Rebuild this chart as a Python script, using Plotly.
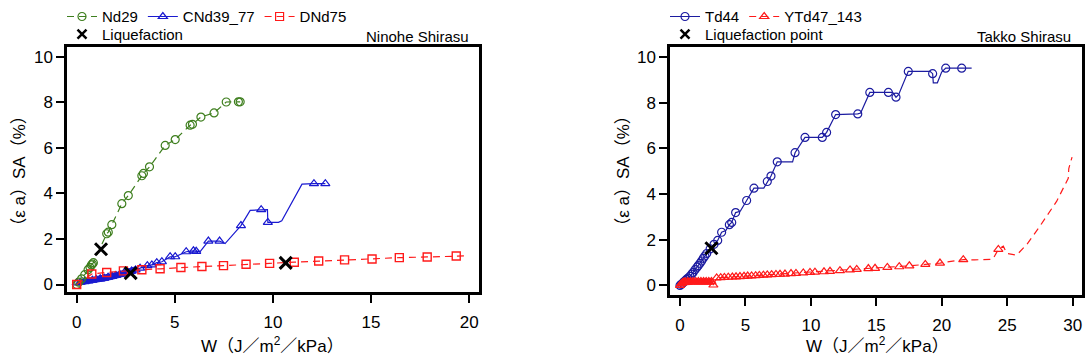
import plotly.graph_objects as go

# ---------------- Left panel: Ninohe Shirasu ----------------
nd29_w = [0, 0.1, 0.25, 0.41, 0.58, 0.68, 0.75, 0.80, 0.85, 1.53, 1.61, 1.79, 2.30, 2.63, 3.32, 3.40, 3.71,
          4.51, 5.02, 5.78, 5.90, 6.33, 7.00, 7.62, 8.24, 8.33]
nd29_sa = [0, 0.1, 0.25, 0.43, 0.65, 0.75, 0.86, 0.90, 0.96, 2.23, 2.30, 2.63, 3.55, 3.91, 4.78, 4.88, 5.17,
           6.11, 6.37, 7.00, 7.04, 7.36, 7.54, 8.02, 8.03, 8.03]

# cyclic band of CNd39_77 near the origin (lower / upper envelope)
cnd_band_w = [0, 0.5, 1.0, 1.5, 2.0, 2.5, 3.0]
cnd_band_lo = [-0.03, 0.03, 0.10, 0.17, 0.27, 0.38, 0.50]
cnd_band_hi = [0.17, 0.26, 0.34, 0.43, 0.52, 0.65, 0.78]

cnd_line_w = [0, 0.2, 0.4, 0.6, 0.8, 1.0, 1.2, 1.4, 1.6, 1.8, 2.0, 2.2, 2.4, 2.6, 2.8, 3.0, 3.23, 3.60,
              3.83, 4.08, 4.34, 4.76, 5.02, 5.58, 5.95, 6.09, 6.30, 6.71, 7.28, 7.56, 8.37, 8.84, 9.40, 9.72,
              9.74, 10.28, 10.45, 11.48, 12.09, 12.67]
cnd_line_sa = [0.07, 0.10, 0.13, 0.16, 0.19, 0.22, 0.25, 0.28, 0.32, 0.36, 0.40, 0.44, 0.49, 0.54, 0.59,
               0.64, 0.72, 0.83, 0.86, 0.96, 1.00, 1.22, 1.22, 1.44, 1.48, 1.46, 1.46, 1.91, 1.91, 1.80, 2.59,
               3.26, 3.29, 3.29, 2.73, 2.73, 2.80, 4.41, 4.43, 4.43]
cnd_mark_w = [0, 0.2, 0.4, 0.6, 0.8, 1.0, 1.2, 1.4, 1.6, 1.8, 2.0, 2.2, 2.4, 2.6, 2.8, 3.0, 3.23, 3.60,
              3.83, 4.08, 4.34, 4.76, 5.02, 5.58, 5.95, 6.09, 6.71, 7.28, 8.37, 9.40, 9.74, 12.09, 12.67]
cnd_mark_sa = [0.07, 0.10, 0.13, 0.16, 0.19, 0.22, 0.25, 0.28, 0.32, 0.36, 0.40, 0.44, 0.49, 0.54, 0.59,
               0.64, 0.72, 0.83, 0.86, 0.96, 1.00, 1.22, 1.22, 1.44, 1.48, 1.46, 1.91, 1.91, 2.59, 3.29, 2.73,
               4.43, 4.43]

dnd_line_w = [0, 0.77, 1.53, 2.38, 3.32, 4.25, 5.31, 6.38, 7.48, 8.63, 9.83, 11.09, 12.33, 13.65, 15.05,
              16.44, 17.86, 19.34, 19.98]
dnd_line_sa = [0, 0.46, 0.53, 0.60, 0.65, 0.69, 0.75, 0.79, 0.83, 0.89, 0.93, 0.98, 1.03, 1.08, 1.12,
               1.18, 1.21, 1.25, 1.26]
dnd_mark_w = dnd_line_w[:-1]
dnd_mark_sa = dnd_line_sa[:-1]

liq_left_w = [1.24, 2.75, 10.65]
liq_left_sa = [1.55, 0.50, 0.95]

# ---------------- Right panel: Takko Shirasu ----------------
td_line_w = [0, 0.1, 0.2, 0.3, 0.4, 0.5, 0.6, 0.76, 0.9, 1.0, 1.15, 1.3, 1.4, 1.53, 1.65, 1.78, 1.9, 2.04,
             2.3, 2.6, 2.88, 3.18, 3.5, 3.77, 3.95, 4.25, 4.6, 5.09, 5.65, 6.4, 6.67, 6.95, 7.43, 8.6, 8.79,
             9.55, 10.87, 11.2, 11.89, 13.58, 13.8, 14.5, 15.92, 16.25, 16.5, 16.7, 17.44, 19.1, 19.30,
             19.35, 19.66, 19.99, 20.30, 21.52, 22.28]
td_line_sa = [0, 0.05, 0.1, 0.16, 0.21, 0.27, 0.32, 0.40, 0.50, 0.57, 0.69, 0.80, 0.87, 0.97, 1.07, 1.19,
              1.29, 1.40, 1.60, 1.80, 1.97, 2.33, 2.40, 2.66, 2.76, 3.19, 3.25, 3.72, 4.26, 4.26, 4.55, 4.79,
              5.41, 5.41, 5.81, 6.48, 6.48, 6.70, 7.48, 7.51, 7.55, 8.45, 8.45, 8.45, 8.24, 8.35, 9.37, 9.37,
              9.27, 8.87, 8.87, 9.34, 9.51, 9.51, 9.51]
td_mark_w = [0, 0.1, 0.2, 0.3, 0.4, 0.5, 0.6, 0.76, 0.9, 1.0, 1.15, 1.3, 1.4, 1.53, 1.65, 1.78, 1.9, 2.04,
             2.3, 2.6, 2.88, 3.18, 3.77, 3.95, 4.25, 5.09, 5.65, 6.67, 6.95, 7.43, 8.79, 9.55, 10.87, 11.2,
             11.89, 13.58, 14.5, 15.92, 16.5, 17.44, 19.30, 20.30, 21.52]
td_mark_sa = [0, 0.05, 0.1, 0.16, 0.21, 0.27, 0.32, 0.40, 0.50, 0.57, 0.69, 0.80, 0.87, 0.97, 1.07, 1.19,
              1.29, 1.40, 1.60, 1.80, 1.97, 2.33, 2.66, 2.76, 3.19, 3.72, 4.26, 4.55, 4.79, 5.41, 5.81, 6.48,
              6.48, 6.70, 7.48, 7.51, 8.45, 8.45, 8.24, 9.37, 9.27, 9.51, 9.51]

# cyclic band of YTd47_143 near the origin (lower / upper envelope)
yt_band_w = [0, 0.2, 0.5, 1.0, 1.5, 2.0, 2.5]
yt_band_lo = [-0.03, 0.0, 0.03, 0.05, 0.05, 0.05, 0.05]
yt_band_hi = [0.05, 0.20, 0.27, 0.28, 0.28, 0.28, 0.28]

yt_mark_w = [0, 0.1, 0.2, 0.3, 0.4, 0.6, 0.8, 1.0, 1.2, 1.4, 1.6, 1.8, 2.0, 2.2, 2.4, 2.55, 2.80, 3.11,
             3.39, 3.69, 4.00, 4.28, 4.58, 4.89, 5.17, 5.47, 5.78, 6.06, 6.37, 6.67, 7.00, 7.33, 7.64, 8.02,
             8.48, 8.86, 9.42, 9.93, 10.31, 11.0, 11.46, 12.22, 12.99, 13.5, 14.39, 14.9, 15.84, 16.75,
             17.52, 18.74, 19.86, 21.64, 24.32]
yt_mark_sa = [0, 0.08, 0.12, 0.15, 0.16, 0.17, 0.17, 0.17, 0.17, 0.17, 0.17, 0.17, 0.17, 0.17, 0.17, 0.02,
              0.33, 0.34, 0.35, 0.36, 0.37, 0.38, 0.39, 0.40, 0.41, 0.42, 0.43, 0.44, 0.45, 0.46, 0.47, 0.48,
              0.49, 0.50, 0.52, 0.53, 0.55, 0.57, 0.58, 0.60, 0.62, 0.65, 0.68, 0.70, 0.74, 0.75, 0.79, 0.82,
              0.86, 0.92, 0.98, 1.13, 1.58]
yt_tail_w = [21.64, 22.5, 23.9, 24.32, 24.7, 24.96, 25.72, 26.5, 27.5, 28.2, 28.78, 29.28, 29.66, 29.7, 29.95]
yt_tail_sa = [1.13, 1.12, 1.15, 1.58, 1.72, 1.40, 1.33, 1.8, 2.6, 3.2, 3.69, 4.26, 4.69, 5.12, 5.62]
yt_line_w = yt_mark_w[:-2] + yt_tail_w
yt_line_sa = yt_mark_sa[:-2] + yt_tail_sa

liq_right_w = [2.40]
liq_right_sa = [1.63]

# ---------------- styles ----------------
GREEN = "#3f7f1f"
BLUE_L = "#1a1ad0"
BLUE_R = "#1c1ca0"
RED = "#ff1a1a"
FONT = "Liberation Sans, Noto Sans CJK JP, Arial, sans-serif"
DASH = "7px,5px"

fig = go.Figure()

def add(x, y, xa, ya, mode, color, dash=None, symbol=None, size=8, legend=None, name=None, show=False,
        lw=1.2, mlw=1.2):
    fig.add_trace(go.Scatter(
        x=x, y=y, xaxis=xa, yaxis=ya, mode=mode, name=name, showlegend=show,
        legend=legend if legend else "legend",
        line=dict(color=color, width=lw, dash=dash),
        marker=dict(symbol=symbol, size=size, color=color, line=dict(color=color, width=mlw)),
        cliponaxis=True, hoverinfo="skip"))

def band(x, lo, hi, xa, ya, color):
    fig.add_trace(go.Scatter(x=x, y=lo, xaxis=xa, yaxis=ya, mode="lines", showlegend=False,
                             line=dict(color=color, width=1), hoverinfo="skip"))
    fig.add_trace(go.Scatter(x=x, y=hi, xaxis=xa, yaxis=ya, mode="lines", showlegend=False,
                             line=dict(color=color, width=1), fill="tonexty", fillcolor=color,
                             hoverinfo="skip"))

# left panel data
band(cnd_band_w, cnd_band_lo, cnd_band_hi, "x", "y", BLUE_L)
add(cnd_line_w, cnd_line_sa, "x", "y", "lines", BLUE_L)
add(cnd_mark_w, cnd_mark_sa, "x", "y", "markers", BLUE_L, symbol="triangle-up-open", size=8)
add(nd29_w, nd29_sa, "x", "y", "lines+markers", GREEN, dash=DASH, symbol="circle-open", size=8)
add(dnd_line_w, dnd_line_sa, "x", "y", "lines", RED, dash=DASH)
add(dnd_mark_w, dnd_mark_sa, "x", "y", "markers", RED, symbol="square-open", size=8, mlw=1.4)
add(liq_left_w, liq_left_sa, "x", "y", "markers", "black", symbol="x-thin-open", size=12, mlw=3)

# right panel data
add(td_line_w, td_line_sa, "x2", "y2", "lines", BLUE_R)
add(td_mark_w, td_mark_sa, "x2", "y2", "markers", BLUE_R, symbol="circle-open", size=8)
band(yt_band_w, yt_band_lo, yt_band_hi, "x2", "y2", RED)
add(yt_line_w, yt_line_sa, "x2", "y2", "lines", RED, dash=DASH)
add(yt_mark_w, yt_mark_sa, "x2", "y2", "markers", RED, symbol="triangle-up-open", size=8)
add(liq_right_w, liq_right_sa, "x2", "y2", "markers", "black", symbol="x-thin-open", size=12, mlw=3)

# legend-only entries
N = [None]
add(N, N, "x", "y", "lines+markers", GREEN, dash=DASH, symbol="circle-open", legend="legend", name="Nd29", show=True)
add(N, N, "x", "y", "lines+markers", BLUE_L, symbol="triangle-up-open", legend="legend", name="CNd39_77", show=True)
add(N, N, "x", "y", "lines+markers", RED, dash=DASH, symbol="square-open", legend="legend", name="DNd75", show=True)
add(N, N, "x", "y", "markers", "black", symbol="x-thin-open", size=9, mlw=2.5, legend="legend2", name="Liquefaction", show=True)
add(N, N, "x2", "y2", "lines+markers", BLUE_R, symbol="circle-open", legend="legend3", name="Td44", show=True)
add(N, N, "x2", "y2", "lines+markers", RED, dash=DASH, symbol="triangle-up-open", legend="legend3", name="YTd47_143", show=True)
add(N, N, "x2", "y2", "markers", "black", symbol="x-thin-open", size=9, mlw=2.5, legend="legend4", name="Liquefaction point", show=True)

W, H = 1087, 363
def px(v):
    return v / W
def py(v):
    return 1 - v / H

axis_common = dict(showline=True, linecolor="black", linewidth=2.5, mirror=True, ticks="outside",
                   ticklen=8, tickwidth=2, tickcolor="black", showgrid=False, zeroline=False,
                   tickfont=dict(family=FONT, size=17, color="black"))

leg_common = dict(orientation="h", bgcolor="rgba(0,0,0,0)", font=dict(family=FONT, size=15, color="black"),
                  xanchor="left", yanchor="middle", itemwidth=30, tracegroupgap=0, traceorder="normal")

fig.update_layout(
    width=W, height=H, margin=dict(l=0, r=0, t=0, b=0),
    paper_bgcolor="white", plot_bgcolor="white",
    xaxis=dict(domain=[px(67), px(479)], range=[-0.494, 20.50], tickvals=[0, 5, 10, 15, 20], anchor="y",
               ticklabelstandoff=5, **axis_common),
    yaxis=dict(domain=[py(293), py(43)], range=[-0.345, 10.43], tickvals=[0, 2, 4, 6, 8, 10], anchor="x",
               **axis_common),
    xaxis2=dict(domain=[px(670), px(1082)], range=[-0.764, 30.71], tickvals=[0, 5, 10, 15, 20, 25, 30],
                anchor="y2", ticklabelstandoff=5, **axis_common),
    yaxis2=dict(domain=[py(296), py(43)], range=[-0.43, 10.43], tickvals=[0, 2, 4, 6, 8, 10], anchor="x2",
                **axis_common),
    legend=dict(x=px(62), y=py(12), **leg_common),
    legend2=dict(x=px(62), y=py(30), **leg_common),
    legend3=dict(x=px(665), y=py(12), **leg_common),
    legend4=dict(x=px(665), y=py(30), **leg_common),
    showlegend=True,
)

ann_font = dict(family=FONT, size=15, color="black")
title_font = dict(family=FONT, size=17, color="black")
fig.add_annotation(text="Ninohe Shirasu", x=px(471), y=py(32), xref="paper", yref="paper",
                   xanchor="right", yanchor="middle", showarrow=False, font=ann_font)
fig.add_annotation(text="Takko Shirasu", x=px(1073), y=py(32), xref="paper", yref="paper",
                   xanchor="right", yanchor="middle", showarrow=False, font=ann_font)
for cx in (20, 624):
    fig.add_annotation(text="（ε a）SA（%）", x=px(cx), y=py(169), xref="paper", yref="paper",
                       xanchor="center", yanchor="middle", textangle=-90, showarrow=False, font=title_font)
for cx in (272, 877):
    fig.add_annotation(text="W（J／m<sup>2</sup>／kPa）", x=px(cx), y=py(360), xref="paper", yref="paper",
                       xanchor="center", yanchor="bottom", showarrow=False, font=title_font)

fig.write_html("out.html")
